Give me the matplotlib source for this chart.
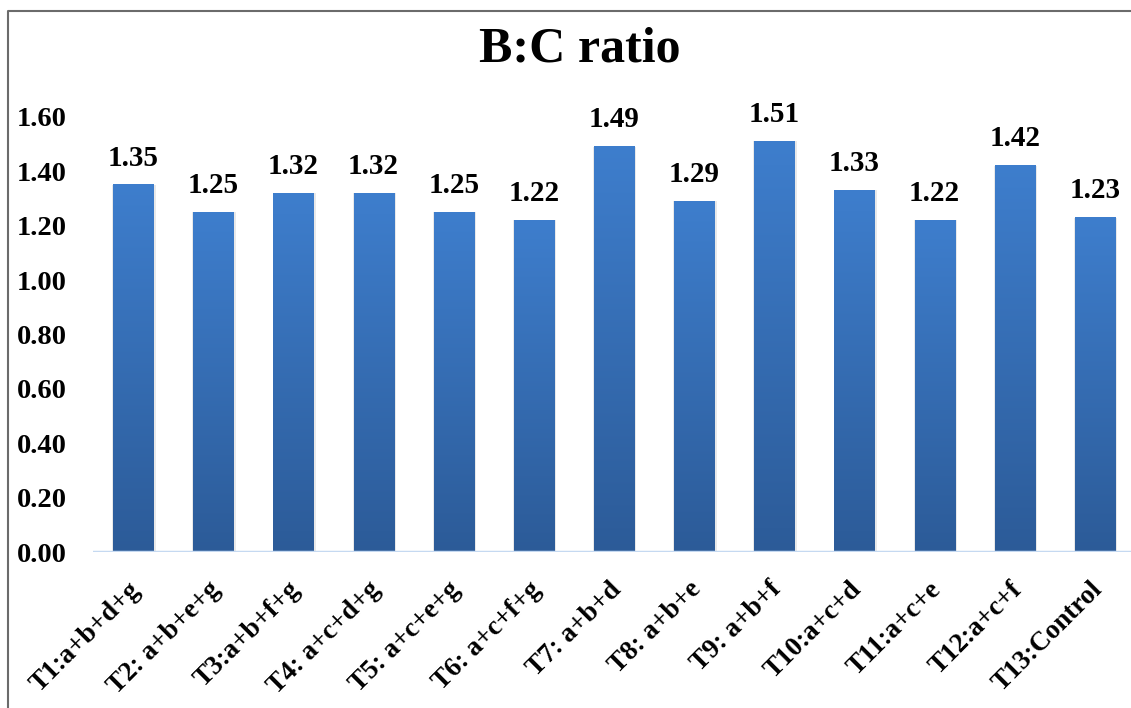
import numpy as np
import matplotlib.pyplot as plt
from matplotlib.colors import LinearSegmentedColormap
from matplotlib.lines import Line2D

# Treatments and their B:C ratio
treatments = ['T1:a+b+d+g', 'T2: a+b+e+g', 'T3:a+b+f+g', 'T4: a+c+d+g',
              'T5: a+c+e+g', 'T6: a+c+f+g', 'T7: a+b+d', 'T8: a+b+e',
              'T9: a+b+f', 'T10:a+c+d', 'T11:a+c+e', 'T12:a+c+f', 'T13:Control']
bc_ratio = [1.35, 1.25, 1.32, 1.32, 1.25, 1.22, 1.49, 1.29, 1.51, 1.33, 1.22, 1.42, 1.23]
y_ticks = [0.0, 0.2, 0.4, 0.6, 0.8, 1.0, 1.2, 1.4, 1.6]

plt.rcParams['font.family'] = ['Liberation Serif', 'DejaVu Serif']
plt.rcParams['font.weight'] = 'bold'

W, H = 1131, 708
fig = plt.figure(figsize=(W / 100, H / 100), dpi=100)
ax = fig.add_axes([93 / W, 156 / H, 1042 / W, 489.4 / H])

x = np.arange(len(treatments))

# soft shadow behind each bar
ax.bar(x + 0.01, bc_ratio, width=0.54, color='#cfcfcf', alpha=0.45, zorder=1)
bars = ax.bar(x, bc_ratio, width=0.5, color='none', zorder=2)

# vertical blue gradient inside the bars
blue = LinearSegmentedColormap.from_list('blue', ['#2C5B98', '#3E7ECD'])
grad = np.linspace(0, 1, 256).reshape(-1, 1)
for b in bars:
    bx, bw, bh = b.get_x(), b.get_width(), b.get_height()
    ax.imshow(grad, extent=[bx, bx + bw, 0, bh], origin='lower',
              aspect='auto', cmap=blue, zorder=2, interpolation='bicubic')

# value labels above bars
for i, v in enumerate(bc_ratio):
    ax.annotate(f'{v:.2f}', xy=(i, v), xytext=(0, 14), textcoords='offset points',
                ha='center', va='baseline', fontsize=21, fontweight='bold')

# rotated category labels
for i, lab in enumerate(treatments):
    ax.annotate(lab, xy=(i, 0), xytext=(-4, -18), textcoords='offset points',
                rotation=45, ha='right', va='top', rotation_mode='anchor',
                fontsize=19.5, fontweight='bold', annotation_clip=False)

ax.axhline(0, color='#C5D9F1', lw=2.5, zorder=3)

ax.set_xlim(-0.5, len(treatments) - 0.5)
ax.set_ylim(0, 1.8)
ax.set_xticks([])
ax.set_yticks(y_ticks)
ax.set_yticklabels([f'{t:.2f}' for t in y_ticks], fontsize=20.5, fontweight='bold')
ax.tick_params(axis='y', length=0, pad=19)
for s in ax.spines.values():
    s.set_visible(False)

fig.text(580 / W, 1 - 50 / H, 'B:C ratio', ha='center', va='center',
         fontsize=36, fontweight='bold')

# outer frame (top and left edges)
fig.add_artist(Line2D([8 / W, 8 / W, 1.0], [0, 1 - 10.5 / H, 1 - 10.5 / H],
                      transform=fig.transFigure, color='#6b6b6b', lw=1.5))

fig.savefig('out.png', dpi=100)
